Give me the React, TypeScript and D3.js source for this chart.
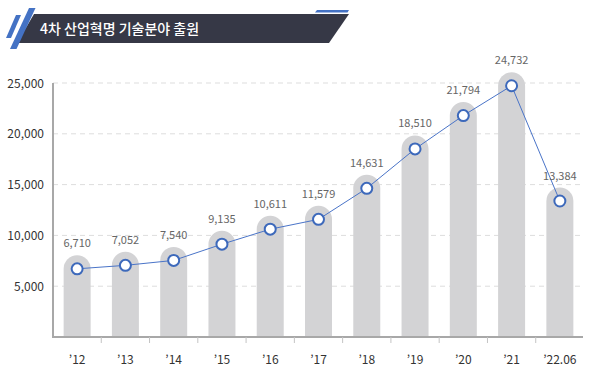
import React, { useEffect, useRef } from 'react';
import * as d3 from 'd3';

const categories = ['’12', '’13', '’14', '’15', '’16', '’17', '’18', '’19', '’20', '’21', '’22.06'];
const values = [6710, 7052, 7540, 9135, 10611, 11579, 14631, 18510, 21794, 24732, 13384];
const yTicks = [5000, 10000, 15000, 20000, 25000];
const title = '4차 산업혁명 기술분야 출원';

const width = 600;
const height = 368;
const FONT = '"Noto Sans CJK KR", "Noto Sans", sans-serif';

const App: React.FC = () => {
  const ref = useRef<SVGSVGElement>(null);

  useEffect(() => {
    if (!ref.current) return;
    const svg = d3.select(ref.current);
    svg.selectAll('*').remove();

    // title banner
    const banner = svg.append('g');
    banner
      .append('path')
      .attr('d', 'M34,14 L349,14 L329,43 L17,43 Z')
      .attr('fill', '#363846');
    banner
      .append('path')
      .attr('d', 'M317,10 L349,10 L347.5,12.5 L315,12.5 Z')
      .attr('fill', '#4472c4');
    banner
      .append('path')
      .attr('d', 'M29,8 L35.5,8 L16.5,49 L10,49 Z')
      .attr('fill', '#4472c4');
    banner
      .append('path')
      .attr('d', 'M16,15 L21,15 L11,38 L6,38 Z')
      .attr('fill', '#4472c4');
    banner
      .append('text')
      .attr('x', 40)
      .attr('y', 34)
      .attr('fill', '#ffffff')
      .style('font-family', FONT)
      .style('font-size', '14px')
      .style('font-weight', 500)
      .text(title);

    const left = 53;
    const right = 583;
    const x = d3.scaleBand<string>().domain(categories).range([left, right + 1]).padding(0);
    const y = d3.scaleLinear().domain([0, 25000]).range([337, 83]);

    // grid lines
    svg
      .append('g')
      .selectAll('line')
      .data(yTicks)
      .enter()
      .append('line')
      .attr('x1', left)
      .attr('x2', right)
      .attr('y1', (d) => y(d))
      .attr('y2', (d) => y(d))
      .attr('stroke', '#dddddd')
      .attr('stroke-width', 1)
      .attr('stroke-dasharray', '5,4');

    // y tick labels
    svg
      .append('g')
      .selectAll('text')
      .data(yTicks)
      .enter()
      .append('text')
      .attr('x', 44)
      .attr('y', (d) => y(d) + 4.5)
      .attr('text-anchor', 'end')
      .attr('fill', '#333333')
      .style('font-family', FONT)
      .style('font-size', '12px')
      .text((d) => d3.format(',')(d));

    // bars with rounded caps
    const bw = 27;
    const r = bw / 2;
    svg
      .append('g')
      .selectAll('path')
      .data(values)
      .enter()
      .append('path')
      .attr('d', (d, i) => {
        const cx = (x(categories[i]) as number) + x.bandwidth() / 2;
        const top = y(d);
        const base = y(0);
        return `M${cx - r},${base} L${cx - r},${top} A${r},${r} 0 0 1 ${cx + r},${top} L${cx + r},${base} Z`;
      })
      .attr('fill', '#d3d3d5');

    // axes
    svg
      .append('line')
      .attr('x1', left)
      .attr('x2', left)
      .attr('y1', 83)
      .attr('y2', 338)
      .attr('stroke', '#a8a8a8')
      .attr('stroke-width', 2);
    svg
      .append('line')
      .attr('x1', left - 1)
      .attr('x2', right)
      .attr('y1', 337)
      .attr('y2', 337)
      .attr('stroke', '#a8a8a8')
      .attr('stroke-width', 2);

    // x ticks between bands
    svg
      .append('g')
      .selectAll('line')
      .data(categories.slice(1))
      .enter()
      .append('line')
      .attr('x1', (d) => x(d) as number)
      .attr('x2', (d) => x(d) as number)
      .attr('y1', 337)
      .attr('y2', 343)
      .attr('stroke', '#c4c4c4')
      .attr('stroke-width', 1);

    // x labels
    svg
      .append('g')
      .selectAll('text')
      .data(categories)
      .enter()
      .append('text')
      .attr('x', (d) => (x(d) as number) + x.bandwidth() / 2)
      .attr('y', 364)
      .attr('text-anchor', 'middle')
      .attr('fill', '#333333')
      .style('font-family', FONT)
      .style('font-size', '12px')
      .text((d) => d);

    // line
    const line = d3
      .line<number>()
      .x((d, i) => (x(categories[i]) as number) + x.bandwidth() / 2)
      .y((d) => y(d));
    svg
      .append('path')
      .datum(values)
      .attr('d', line)
      .attr('fill', 'none')
      .attr('stroke', '#4a74c8')
      .attr('stroke-width', 1);

    // markers
    svg
      .append('g')
      .selectAll('circle')
      .data(values)
      .enter()
      .append('circle')
      .attr('cx', (d, i) => (x(categories[i]) as number) + x.bandwidth() / 2)
      .attr('cy', (d) => y(d))
      .attr('r', 5.5)
      .attr('fill', '#ffffff')
      .attr('stroke', '#3d69bb')
      .attr('stroke-width', 2);

    // value labels
    svg
      .append('g')
      .selectAll('text')
      .data(values)
      .enter()
      .append('text')
      .attr('x', (d, i) => (x(categories[i]) as number) + x.bandwidth() / 2)
      .attr('y', (d) => y(d) - r - 8)
      .attr('text-anchor', 'middle')
      .attr('fill', '#666666')
      .style('font-family', FONT)
      .style('font-size', '11px')
      .text((d) => d3.format(',')(d));
  }, []);

  return (
    <svg
      ref={ref}
      width={width}
      height={height}
      style={{ position: 'absolute', left: 0, top: 0, background: '#ffffff' }}
    ></svg>
  );
};

export default App;
